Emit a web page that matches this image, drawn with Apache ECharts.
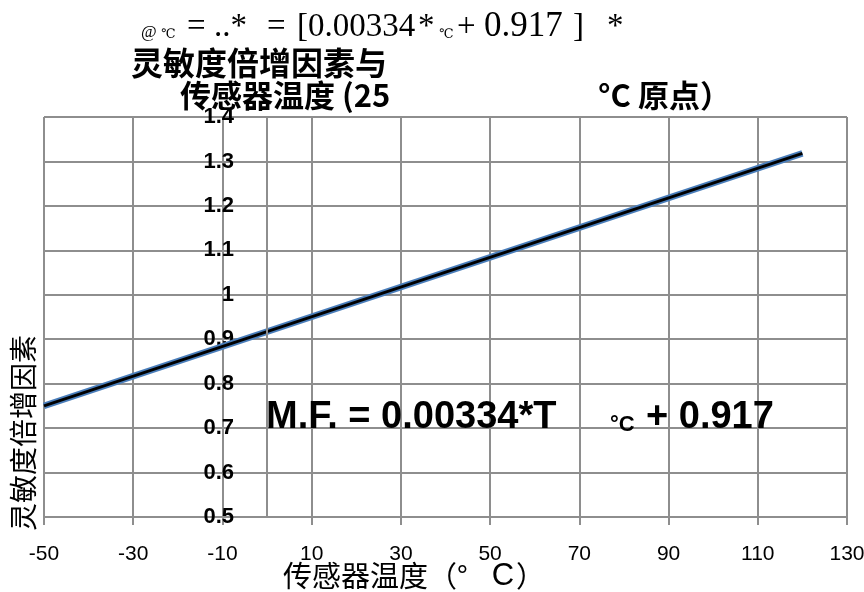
<!DOCTYPE html>
<html><head><meta charset="utf-8">
<script src="https://cdn.jsdelivr.net/npm/echarts@6/dist/echarts.min.js"></script>
<style>html,body{margin:0;padding:0;background:#fff}#c{width:864px;height:592px}</style>
</head><body><div id="c"></div>
<script>
// data
const temperatures = [-50, 120];
const multFactors = [0.75, 1.318];
const xTickLabels = [-50, -30, -10, 10, 30, 50, 70, 90, 110, 130];
const yTickLabels = [0.5, 0.6, 0.7, 0.8, 0.9, 1, 1.1, 1.2, 1.3, 1.4];
const yAxisCross = [0];
// texts
const topFormula = ['@', '℃', '=', '..*', '=', '[0.00334', '*', '℃', '+', '0.917', ']', '*'];
const titleLine1 = '灵敏度倍增因素与';
const titleLine2a = '传感器温度 (25';
const titleLine2b = '°C 原点）';
const xNameA = '传感器温度（°';
const xNameB = 'C';
const xNameC = '）';
const yName = '灵敏度倍增因素';
const eqMain = 'M.F. = 0.00334*T';
const eqSub = '°C';
const eqTail = '+ 0.917';

const gridColor = '#8e8e8e';
const sans = 'Liberation Sans, Arial, sans-serif';
const cjk = 'Noto Sans CJK SC, sans-serif';
const serif = 'Liberation Serif, DejaVu Serif, serif';

const chart = echarts.init(document.getElementById('c'), null, {renderer: 'canvas'});
const pts = temperatures.map((t, i) => [t, multFactors[i]]);
const gl = {color: gridColor, width: 2};

// top formula pieces layout
const fLeft = [141, 161, 187, 214, 267, 297, 418, 439, 457, 484, 573, 607];
const fSize = [17, 13, 33, 33, 33, 33, 33, 13, 33, 35, 33, 33];
const fBase = 37;
const formulaGraphics = topFormula.map((t, i) => ({
  type: 'text', x: fLeft[i], y: Math.round(fBase + 0.21 * fSize[i] + (fSize[i] === 13 ? 1 : 0)),
  style: {text: t, font: fSize[i] + 'px ' + serif, fill: '#000', textVerticalAlign: 'bottom'}
}));

chart.setOption({
  animation: false,
  backgroundColor: '#fff',
  grid: {left: 44, right: 17, top: 117, bottom: 75, containLabel: false, outerBoundsMode: 'none'},
  xAxis: {
    type: 'value',
    min: xTickLabels[0], max: xTickLabels[xTickLabels.length - 1],
    interval: xTickLabels[1] - xTickLabels[0],
    axisLine: {show: true, onZero: false, lineStyle: gl},
    axisTick: {show: true, length: 8, lineStyle: gl},
    splitLine: {show: true, lineStyle: gl},
    axisLabel: {fontSize: 21, color: '#000', margin: 27, fontFamily: sans, showMinLabel: true, showMaxLabel: true}
  },
  yAxis: {
    type: 'value',
    min: yTickLabels[0], max: yTickLabels[yTickLabels.length - 1],
    interval: 0.1,
    axisLine: {show: false, onZero: false},
    axisTick: {show: false},
    splitLine: {show: true, lineStyle: gl},
    axisLabel: {inside: true, align: 'right', fontSize: 22, fontWeight: 'bold', color: '#000', margin: 190, fontFamily: sans, padding: [12, 0, 0, 0], showMinLabel: true, showMaxLabel: true}
  },
  series: [
    {type: 'line', data: [], z: 1, silent: true,
     markLine: {silent: true, symbol: ['none', 'none'], label: {show: false},
       lineStyle: {color: gridColor, width: 2, type: 'solid'},
       emphasis: {disabled: true},
       data: yAxisCross.map(v => ({xAxis: v}))}},
    {type: 'line', data: pts, symbol: 'none', lineStyle: {color: '#4a7ebb', width: 6.5}, z: 3},
    {type: 'line', data: pts, symbol: 'none', lineStyle: {color: '#000', width: 2.8}, z: 4}
  ],
  graphic: formulaGraphics.concat([
    {type: 'text', left: 131, top: 47, style: {text: titleLine1, font: 'bold 32px ' + cjk, fill: '#000'}},
    {type: 'text', left: 180, top: 80, style: {text: titleLine2a, font: 'bold 31px ' + cjk, fill: '#000'}},
    {type: 'text', left: 598, top: 80, style: {text: titleLine2b, font: 'bold 31px ' + cjk, fill: '#000'}},
    {type: 'text', left: 266, top: 399, z: 10, style: {text: eqMain, font: 'bold 38px ' + sans, fill: '#000'}},
    {type: 'text', left: 610, top: 414, z: 10, style: {text: eqSub, font: 'bold 22px ' + sans, fill: '#000'}},
    {type: 'text', left: 646, top: 399, z: 10, style: {text: eqTail, font: 'bold 38px ' + sans, fill: '#000'}},
    {type: 'text', x: 414, y: 576, style: {
      text: '{a|' + xNameA + '}{c|' + xNameB + '}{a|' + xNameC + '}',
      rich: {a: {font: '29px ' + cjk, fill: '#000'}, c: {font: '31px ' + sans, fill: '#000', padding: [0, 2, 0, 24]}},
      textAlign: 'center', textVerticalAlign: 'middle'}},
    {type: 'text', x: 23, y: 433, rotation: Math.PI / 2, style: {text: yName, font: '28px ' + cjk, fill: '#000', textAlign: 'center', textVerticalAlign: 'middle'}}
  ])
});
</script></body></html>
